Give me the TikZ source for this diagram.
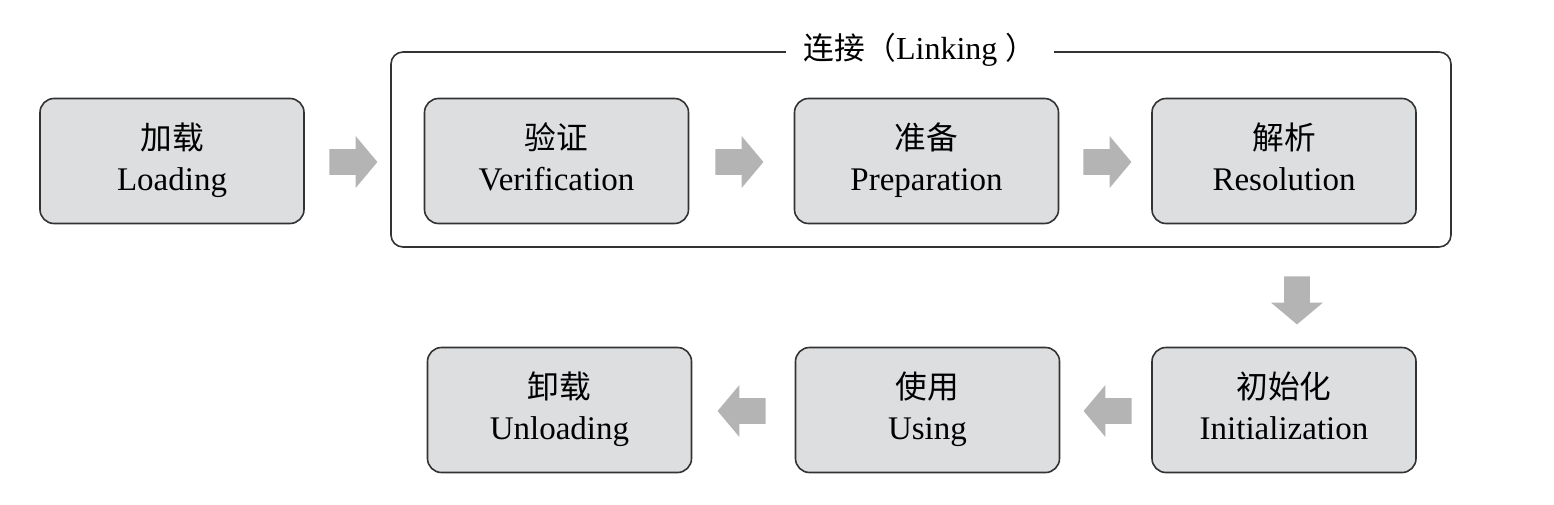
\documentclass[tikz,border=0pt]{standalone}
\usepackage{fontspec}
\setmainfont{Liberation Serif}
\newfontfamily\cjk[Scale=0.96]{Noto Sans CJK SC}
\usetikzlibrary{shapes.arrows}
\definecolor{boxgray}{HTML}{DCDEDF}
\definecolor{arrowgray}{HTML}{B4B4B4}
\definecolor{edgegray}{HTML}{333333}
\tikzset{
  stage/.style={draw=edgegray, fill=boxgray, rounded corners=7pt, line width=0.8pt,
    minimum width=132pt, minimum height=62.5pt, align=center,
    font=\fontsize{16.5}{20.5}\selectfont,
    execute at begin node={\rule{0pt}{19pt}}, execute at end node={\rule[-4.5pt]{0pt}{4.5pt}}},
  flow/.style={single arrow, fill=arrowgray, draw=none, inner sep=6.25pt,
    minimum height=24pt, minimum width=25.5pt,
    single arrow head extend=6.5pt, single arrow tip angle=100},
}
\begin{document}
\begin{tikzpicture}[x=0.5pt, y=-0.5pt]
\useasboundingbox (0,0) rectangle (1554,504);
% linking frame
\draw[edgegray, line width=0.8pt, rounded corners=6pt] (391,52) rectangle (1451,247);
\node[fill=white, inner xsep=9pt, font=\fontsize{16}{18}\selectfont] (linking) at (920,50) {{\cjk 连接（}Linking\ {\cjk ）}};
% stages
\node[stage] (load) at (172,161) {{\cjk 加载}\\Loading};
\node[stage] (verify) at (556.5,161) {{\cjk 验证}\\Verification};
\node[stage] (prepare) at (926.5,161) {{\cjk 准备}\\Preparation};
\node[stage] (resolve) at (1284,161) {{\cjk 解析}\\Resolution};
\node[stage] (init) at (1284,410) {{\cjk 初始化}\\Initialization};
\node[stage] (use) at (927.5,410) {{\cjk 使用}\\Using};
\node[stage] (unload) at (559.5,410) {{\cjk 卸载}\\Unloading};
% arrows between stages
\node[flow] (a1) at (348,162) {};
\node[flow] (a2) at (734,162) {};
\node[flow] (a3) at (1102,162) {};
\node[flow, shape border rotate=270] (a4) at (1297,295) {};
\node[flow, shape border rotate=180] (a5) at (1113,411) {};
\node[flow, shape border rotate=180] (a6) at (747,411) {};
\end{tikzpicture}
\end{document}
